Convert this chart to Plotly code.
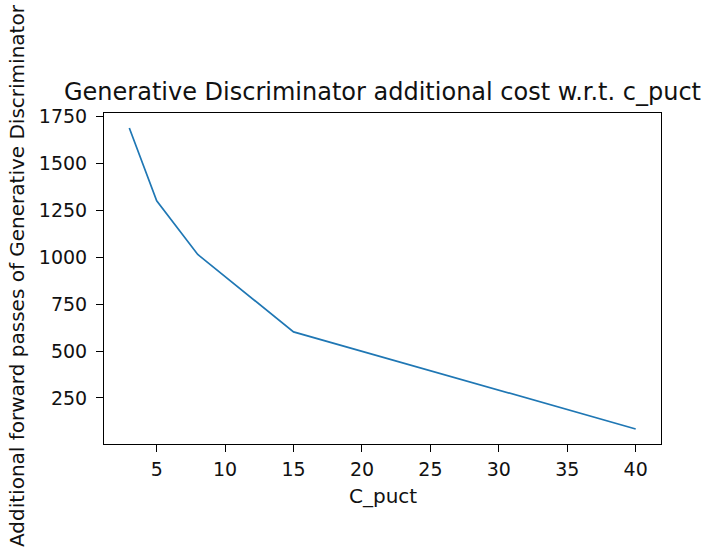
import plotly.graph_objects as go

c_puct = [3, 5, 8, 15, 40]
extra_passes = [1690, 1302, 1015, 602, 84]

x_ticks = [5, 10, 15, 20, 25, 30, 35, 40]
y_ticks = [250, 500, 750, 1000, 1250, 1500, 1750]

W, H = 706, 548
L, R, T, B = 104, 45, 113, 104
pw = W - L - R
ph = H - T - B

font = "DejaVu Sans"

fig = go.Figure()
fig.add_trace(go.Scatter(x=c_puct, y=extra_passes, mode="lines",
                         line=dict(color="#1f77b4", width=1.7)))

span_x = max(c_puct) - min(c_puct)
span_y = max(extra_passes) - min(extra_passes)

axis_common = dict(showgrid=False, zeroline=False, showline=True, linecolor="black",
                   linewidth=1, mirror=True, ticks="outside", ticklen=7, tickwidth=1,
                   tickcolor="black", tickfont=dict(family=font, size=19, color="#111111"))

fig.update_xaxes(range=[min(c_puct) - 0.05 * span_x, max(c_puct) + 0.05 * span_x],
                 tickvals=x_ticks, ticklabelstandoff=1, **axis_common)
fig.update_yaxes(range=[min(extra_passes) - 0.05 * span_y, max(extra_passes) + 0.05 * span_y],
                 tickvals=y_ticks, ticklabelstandoff=5, **axis_common)

fig.add_annotation(text="Generative Discriminator additional cost w.r.t. c_puct",
                   xref="paper", yref="paper", x=0.5, y=1 + 21 / ph,
                   xanchor="center", yanchor="middle", showarrow=False,
                   font=dict(family=font, size=24, color="#111111"))
fig.add_annotation(text="C_puct", xref="paper", yref="paper", x=0.5, y=-52 / ph,
                   xanchor="center", yanchor="middle", showarrow=False,
                   font=dict(family=font, size=20, color="#111111"))
fig.add_annotation(text="Additional forward passes of Generative Discriminator",
                   xref="paper", yref="paper", x=(17 - L) / pw, y=1 - (276 - T) / ph,
                   textangle=-90, xanchor="center", yanchor="middle", showarrow=False,
                   font=dict(family=font, size=20, color="#111111"))

fig.update_layout(width=W, height=H, margin=dict(l=L, r=R, t=T, b=B),
                  paper_bgcolor="white", plot_bgcolor="white", showlegend=False)

fig.write_html("out.html")
